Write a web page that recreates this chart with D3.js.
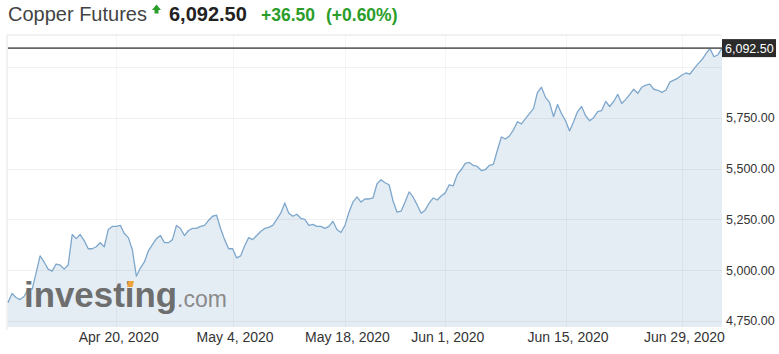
<!DOCTYPE html>
<html>
<head>
<meta charset="utf-8">
<script src="https://cdn.jsdelivr.net/npm/d3@7"></script>
<style>
  body { margin: 0; background: #fff; }
  text { font-family: Arial, "Liberation Sans", sans-serif; }
</style>
</head>
<body>
<div id="chart"></div>
<script>
// header numbers
var title = "Copper Futures";
var lastPrice = 6092.50;
var change = "+36.50";
var changePct = "(+0.60%)";

// price series, one value every few trading hours, Apr 7 -> Jul 2 2020
var prices = [
  4840, 4885, 4865, 4855, 4870, 4905, 4905, 4985, 5070, 5040,
  5005, 4995, 5030, 5025, 5005, 5025, 5175, 5155, 5175, 5145,
  5105, 5105, 5115, 5135, 5115, 5200, 5215, 5215, 5220, 5180,
  5160, 5100, 4970, 5010, 5040, 5095, 5125, 5155, 5170, 5135,
  5135, 5150, 5220, 5205, 5170, 5195, 5205, 5205, 5215, 5220,
  5245, 5265, 5270, 5205, 5150, 5105, 5105, 5060, 5070, 5120,
  5160, 5150, 5170, 5190, 5205, 5210, 5220, 5250, 5280, 5330,
  5280, 5265, 5275, 5255, 5250, 5220, 5225, 5215, 5215, 5205,
  5215, 5240, 5200, 5185, 5220, 5285, 5335, 5360, 5335, 5350,
  5350, 5355, 5425, 5445, 5430, 5420, 5340, 5285, 5290, 5335,
  5385, 5360, 5320, 5280, 5295, 5330, 5355, 5345, 5365, 5380,
  5420, 5415, 5470, 5495, 5525, 5530, 5515, 5510, 5490, 5495,
  5515, 5520, 5590, 5655, 5645, 5660, 5690, 5730, 5720, 5745,
  5770, 5795, 5875, 5900, 5850, 5825, 5755, 5815, 5770, 5735,
  5685, 5730, 5780, 5805, 5760, 5735, 5750, 5780, 5785, 5830,
  5805, 5830, 5865, 5820, 5840, 5865, 5890, 5870, 5900, 5910,
  5915, 5890, 5885, 5875, 5885, 5925, 5935, 5945, 5960, 5970,
  5965, 5990, 6015, 6035, 6065, 6090, 6050, 6060, 6092.5
];

// x axis labels and the sample they sit on
var dateLabels = ["Apr 20, 2020", "May 4, 2020", "May 18, 2020", "Jun 1, 2020", "Jun 15, 2020", "Jun 29, 2020"];
var dateIndex = [27, 56, 84, 109, 139, 168];

// y axis
var priceTicks = [4750, 5000, 5250, 5500, 5750];
var gridTicks = [4750, 5000, 5250, 5500, 5750, 6000];

var W = 779, H = 354;
var plot = {left: 8, right: 722, top: 35, bottom: 327};

var svg = d3.select("#chart")
  .append("svg")
  .attr("width", W)
  .attr("height", H);

// scales
var x = d3.scaleLinear()
  .domain([0, prices.length - 1])
  .range([plot.left, plot.right]);

var y = d3.scaleLinear()
  .domain([4720, 6157])
  .range([plot.bottom, plot.top]);

// ---- header
var green = "#2a9d2a";
svg.append("text")
  .attr("x", 8).attr("y", 21)
  .attr("font-size", 20)
  .attr("fill", "#444")
  .text(title);

svg.append("path")
  .attr("d", "M156.5,4.5 L161,10 L158.5,10 L158.5,13.5 L154.5,13.5 L154.5,10 L152,10 Z")
  .attr("fill", green);

svg.append("text")
  .attr("x", 169).attr("y", 21)
  .attr("font-size", 20)
  .attr("font-weight", "bold")
  .attr("fill", "#222")
  .text(d3.format(",.2f")(lastPrice));

svg.append("text")
  .attr("x", 261).attr("y", 21)
  .attr("font-size", 17.5)
  .attr("font-weight", "bold")
  .attr("fill", green)
  .text(change);

svg.append("text")
  .attr("x", 326).attr("y", 21)
  .attr("font-size", 17.5)
  .attr("font-weight", "bold")
  .attr("fill", green)
  .text(changePct);

// ---- frame
svg.append("line")
  .attr("x1", plot.left - 1).attr("x2", plot.right)
  .attr("y1", plot.top).attr("y2", plot.top)
  .attr("stroke", "#e4e4e4");
svg.append("line")
  .attr("x1", plot.left - 1).attr("x2", plot.left - 1)
  .attr("y1", plot.top).attr("y2", plot.bottom + 3)
  .attr("stroke", "#e4e4e4");

// ---- area + line
var area = d3.area()
  .x(function(d, i) { return x(i); })
  .y0(plot.bottom)
  .y1(function(d) { return y(d); });

var line = d3.line()
  .x(function(d, i) { return x(i); })
  .y(function(d) { return y(d); });

svg.append("path")
  .datum(prices)
  .attr("fill", "#e5edf4")
  .attr("d", area);

// grid lines sit on top of the fill, very faint
svg.append("g")
  .selectAll("line")
  .data(gridTicks)
  .join("line")
    .attr("x1", plot.left).attr("x2", plot.right)
    .attr("y1", function(d) { return Math.round(y(d)) + 0.5; })
    .attr("y2", function(d) { return Math.round(y(d)) + 0.5; })
    .attr("stroke", "rgba(0,0,0,0.05)");

svg.append("g")
  .selectAll("line")
  .data(dateIndex)
  .join("line")
    .attr("x1", function(d) { return Math.round(x(d)) + 0.5; })
    .attr("x2", function(d) { return Math.round(x(d)) + 0.5; })
    .attr("y1", plot.top).attr("y2", plot.bottom)
    .attr("stroke", "rgba(0,0,0,0.04)");

svg.append("path")
  .datum(prices)
  .attr("fill", "none")
  .attr("stroke", "#7ea7cc")
  .attr("stroke-width", 1.3)
  .attr("stroke-linejoin", "round")
  .attr("d", line);

// ---- watermark
var wm = svg.append("g");
wm.append("text")
  .attr("x", 24).attr("y", 307)
  .attr("font-size", 35)
  .attr("font-weight", "bold")
  .attr("fill", "#6e6e6e")
  .attr("textLength", 153)
  .attr("lengthAdjust", "spacingAndGlyphs")
  .text("investing");
wm.append("path")
  .attr("d", "M127,287 L128.5,281 L134,281 L132.5,287 Z")
  .attr("fill", "#f0a23a");
wm.append("text")
  .attr("x", 177).attr("y", 307)
  .attr("font-size", 23)
  .attr("fill", "#8a8a8a")
  .text(".com");

// ---- last price line and tag
svg.append("line")
  .attr("x1", plot.left).attr("x2", plot.right)
  .attr("y1", y(lastPrice)).attr("y2", y(lastPrice))
  .attr("stroke", "#666")
  .attr("stroke-width", 1.6);

svg.append("rect")
  .attr("x", plot.right).attr("y", y(lastPrice) - 9)
  .attr("width", 54).attr("height", 18)
  .attr("fill", "#2b2b2b");
svg.append("text")
  .attr("x", plot.right + 3).attr("y", y(lastPrice) + 4.5)
  .attr("font-size", 12.5)
  .attr("fill", "#fff")
  .text(d3.format(",.2f")(lastPrice));

// ---- right axis
var yAxis = svg.append("g")
  .attr("transform", "translate(" + plot.right + ",0)")
  .call(d3.axisRight(y)
    .tickValues(priceTicks)
    .tickFormat(d3.format(",.2f"))
    .tickSize(0)
    .tickPadding(4));
yAxis.select(".domain").remove();
yAxis.selectAll("text")
  .attr("font-family", "Arial, 'Liberation Sans', sans-serif")
  .attr("font-size", 12.5)
  .attr("fill", "#333");

// ---- bottom axis
var xAxis = svg.append("g")
  .attr("transform", "translate(2," + plot.bottom + ")")
  .call(d3.axisBottom(x)
    .tickValues(dateIndex)
    .tickFormat(function(d, i) { return dateLabels[i]; })
    .tickSize(0)
    .tickPadding(5));
xAxis.select(".domain").remove();
xAxis.selectAll("text")
  .attr("font-family", "Arial, 'Liberation Sans', sans-serif")
  .attr("font-size", 14)
  .attr("fill", "#333");
</script>
</body>
</html>
